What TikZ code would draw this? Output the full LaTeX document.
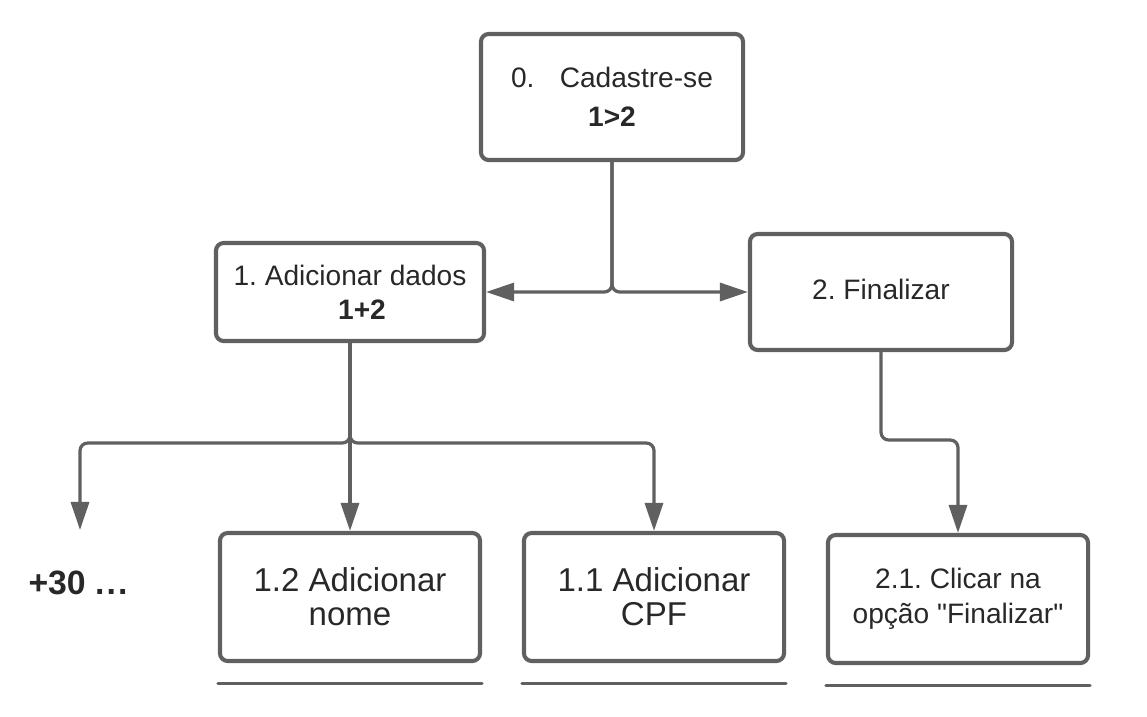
\documentclass[tikz,border=0pt]{standalone}
\usepackage{fontspec}
\setmainfont{Liberation Sans}[Ligatures=TeXOff]
\usetikzlibrary{arrows.meta}
\definecolor{myGray}{RGB}{96, 96, 96}
\definecolor{myText}{RGB}{40, 40, 40}
\frenchspacing

\begin{document}
\begin{tikzpicture}[x=0.025cm, y=-0.025cm,
		box/.style={draw=myGray, line width=2.9pt, rounded corners=5.5pt, align=center, text=myText, font=\fontsize{20}{24}\selectfont},
		conn/.style={draw=myGray, line width=2.3pt, rounded corners=5.5pt, -{Triangle[length=0.7cm, width=0.45cm]}},
		uline/.style={draw=myGray, line width=2.2pt, line cap=round}]
			\useasboundingbox (0,0) rectangle (1147,717);

			\draw (612,97) node[box, minimum width=6.55cm, minimum height=3.15cm, font=\fontsize{20}{28}\selectfont] (cad) {0.\hspace{0.9em}Cadastre-se\\\textbf{1>2}};
			\draw (350,292) node[box, minimum width=6.7cm, minimum height=2.45cm] (dados) {1. Adicionar dados\\\hspace*{0.6cm}\textbf{1+2}};
			\draw (881,292) node[box, minimum width=6.55cm, minimum height=2.9cm] (fin) {2. Finalizar\vphantom{g}};
			\draw (350,597) node[box, minimum width=6.5cm, minimum height=3.2cm, font=\fontsize{23.5}{24}\selectfont] (nome) {1.2 Adicionar\\nome};
			\draw (654,597) node[box, minimum width=6.5cm, minimum height=3.2cm, font=\fontsize{23.5}{24}\selectfont] (cpf) {1.1 Adicionar\\CPF};
			\draw (958,599) node[box, minimum width=6.5cm, minimum height=3.2cm, font=\fontsize{20}{25}\selectfont] (clicar) {2.1. Clicar na\\opção "Finalizar"};
			\draw (78,583) node[text=myText, font=\bfseries\fontsize{24}{24}\selectfont] (mais) {+30 .\kern1.5pt.\kern1.5pt.};

			\coordinate (more) at (80,530);
			\coordinate (s1) at (350,443);
			\coordinate (s2) at (881,440);

			\draw[conn] (cad.south) |- (dados.east);
			\draw[conn] (cad.south) |- (fin.west);
			\draw[conn] (dados.south) -- (s1) -| (more);
			\draw[conn] (dados.south) -- (nome.north);
			\draw[conn] (dados.south) -- (s1) -| (cpf.north);
			\draw[conn] (fin.south) -- (s2) -| (clicar.north);

			\foreach \n in {nome, cpf, clicar}
				\draw[uline] ([yshift=-0.5cm]\n.south west) -- ([yshift=-0.5cm]\n.south east);
		\end{tikzpicture}
\end{document}
